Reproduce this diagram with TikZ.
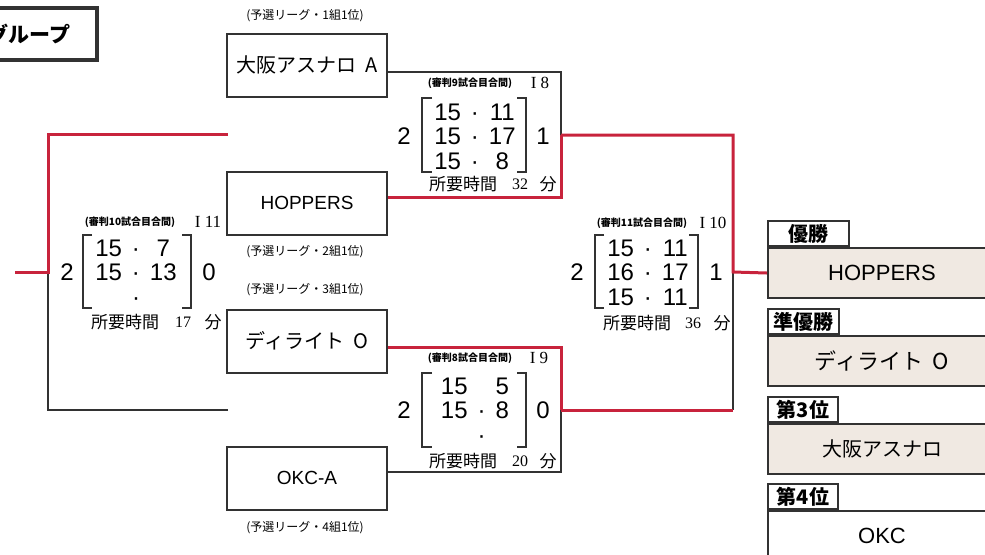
\documentclass[tikz,border=0pt]{standalone}
\usepackage{fontspec}
\setmainfont{Liberation Sans}
\newfontfamily\jp{Noto Sans CJK JP}
\newfontfamily\mincho{Liberation Serif}
\usetikzlibrary{calc}
\definecolor{winred}{RGB}{200,35,60}
\definecolor{paper}{RGB}{240,233,226}
\definecolor{ink}{RGB}{50,50,50}
\tikzstyle{groupbox}=[draw=ink,line width=1.6pt,minimum width=68pt,minimum height=26pt,font=\jp\bfseries\fontsize{10.5}{12}\selectfont]
\tikzstyle{team}=[draw=ink,line width=1pt,minimum width=80pt,minimum height=31.5pt,font=\jp\fontsize{10}{12}\selectfont]
\tikzstyle{latin}=[font=\fontsize{9.5}{11}\selectfont]
\tikzstyle{league}=[font=\jp\fontsize{6}{7}\selectfont,inner sep=0pt]
\tikzstyle{ref}=[font=\jp\bfseries\fontsize{5}{6}\selectfont,inner sep=0pt]
\tikzstyle{court}=[font=\mincho\fontsize{8.5}{10}\selectfont,inner sep=0pt]
\tikzstyle{games}=[font=\fontsize{12}{14}\selectfont,inner sep=0pt]
\tikzstyle{points}=[font=\fontsize{12}{12.3}\selectfont,inner sep=0pt]
\tikzstyle{jtime}=[font=\jp\fontsize{8.5}{10}\selectfont,inner sep=0pt]
\tikzstyle{mins}=[font=\mincho\fontsize{8}{10}\selectfont,inner sep=0pt]
\tikzstyle{bracket}=[draw=ink,line width=1.1pt]
\tikzstyle{win}=[draw=winred,line width=1.5pt]
\tikzstyle{lose}=[draw=ink,line width=1pt]
\tikzstyle{prize}=[draw=ink,line width=1pt,fill=paper,anchor=north west,minimum width=114pt,minimum height=25pt,font=\fontsize{11}{13}\selectfont]
\tikzstyle{prizetab}=[draw=ink,line width=1pt,fill=white,anchor=south west,minimum height=12.5pt,inner sep=0pt,font=\jp\bfseries\fontsize{10}{12}\selectfont]

\begin{document}
\begin{tikzpicture}[x=0.5pt,y=-0.5pt]
      \useasboundingbox (0,0) rectangle (985,554);
      \node[groupbox] (group) at (29,34) {グループ};

      % teams
      \node[league] (lg1) at (305,16) {(予選リーグ・1組1位)};
      \node[team] (asunaro) at (307,65) {大阪アスナロ\ \ A};
      \node[team,latin] (hoppers) at (307,203) {HOPPERS};
      \node[league] (lg2) at (305,252) {(予選リーグ・2組1位)};
      \node[league] (lg3) at (305,290) {(予選リーグ・3組1位)};
      \node[team] (delight) at (307,341) {ディライト\ \ O};
      \node[team,latin] (okca) at (307,478) {OKC-A};
      \node[league] (lg4) at (305,528) {(予選リーグ・4組1位)};

      % results
      \node[prize] (champ) at (767,247) {HOPPERS};
      \node[prizetab,minimum width=40.5pt] (champtab) at (champ.north west) {優勝};
      \node[prize] (runner) at (767,335) {\jp ディライト\ \ O};
      \node[prizetab,minimum width=35.5pt] (runnertab) at (runner.north west) {準優勝};
      \node[prize] (third) at (767,423) {\jp\fontsize{10}{12}\selectfont 大阪アスナロ};
      \node[prizetab,minimum width=35pt] (thirdtab) at (third.north west) {第3位};
      \node[prize,fill=white] (fourth) at (767,510) {OKC};
      \node[prizetab,minimum width=35pt] (fourthtab) at (fourth.north west) {第4位};

      % junctions
      \coordinate (sf1) at (561,135);
      \coordinate (sf2) at (561,410);
      \coordinate (fin) at (733,272);
      \coordinate (fin2) at (733,410);
      \coordinate (tpin1) at (228,134);
      \coordinate (tpin2) at (228,410);
      \coordinate (tpjoin) at (48,272);
      \coordinate (tpout) at (15,272);

      \draw[lose] ($(asunaro.east)+(0,7)$) -| (sf1);
      \draw[lose] ($(okca.east)+(0,-6)$) -| (sf2);
      \draw[lose] (fin2) -- (fin);
      \draw[lose] (tpin2) -| (tpjoin);
      \draw[win] ($(hoppers.east)+(0,-6)$) -| (sf1);
      \draw[win] ($(delight.east)+(0,6)$) -| (sf2);
      \draw[win] (sf2) -- (fin2);
      \draw[win] (sf1) -| (fin) -- (champ.west);
      \draw[win] (tpin1) -| (tpjoin) -- (tpout);

      % game 8
      \node[ref] (ref8) at (470,83) {(審判9試合目合間)};
      \node[court] (court8) at (540,83) {I 8};
      \node[games] (l8) at (404,136) {2};
      \node[points] (p8) at (475,140) {\begin{tabular}{@{}c@{\hspace{5pt}}c@{\hspace{5pt}}c@{}}15&·&11\\15&·&17\\15&·&8\end{tabular}};
      \node[games] (r8) at (543,136) {1};
      \draw[bracket] (432,98) -- (422,98) -- (422,172) -- (432,172);
      \draw[bracket] (517,98) -- (526,98) -- (526,172) -- (517,172);
      \node[jtime] (jt8) at (463,184) {所要時間};
      \node[mins] (mn8) at (520,184) {32};
      \node[jtime] (fn8) at (548,184) {分};

      % game 9
      \node[ref] (ref9) at (470,358) {(審判8試合目合間)};
      \node[court] (court9) at (539,358) {I 9};
      \node[games] (l9) at (404,410) {2};
      \node[points] (p9) at (475,414) {\begin{tabular}{@{}c@{\hspace{5pt}}c@{\hspace{5pt}}c@{}}15&&5\\15&·&8\\&·&\end{tabular}};
      \node[games] (r9) at (543,410) {0};
      \draw[bracket] (432,373) -- (422,373) -- (422,447) -- (432,447);
      \draw[bracket] (517,373) -- (526,373) -- (526,447) -- (517,447);
      \node[jtime] (jt9) at (463,461) {所要時間};
      \node[mins] (mn9) at (520,461) {20};
      \node[jtime] (fn9) at (548,461) {分};

      % game 10
      \node[ref] (ref10) at (642,223) {(審判11試合目合間)};
      \node[court] (court10) at (713,223) {I 10};
      \node[games] (l10) at (577,272) {2};
      \node[points] (p10) at (648,276) {\begin{tabular}{@{}c@{\hspace{5pt}}c@{\hspace{5pt}}c@{}}15&·&11\\16&·&17\\15&·&11\end{tabular}};
      \node[games] (r10) at (716,272) {1};
      \draw[bracket] (604,235) -- (595,235) -- (595,308) -- (604,308);
      \draw[bracket] (689,235) -- (698,235) -- (698,308) -- (689,308);
      \node[jtime] (jt10) at (637,323) {所要時間};
      \node[mins] (mn10) at (693,323) {36};
      \node[jtime] (fn10) at (722,323) {分};

      % game 11
      \node[ref] (ref11) at (130,222) {(審判10試合目合間)};
      \node[court] (court11) at (208,222) {I 11};
      \node[games] (l11) at (67,272) {2};
      \node[points] (p11) at (136,276) {\begin{tabular}{@{}c@{\hspace{5pt}}c@{\hspace{5pt}}c@{}}15&·&7\\15&·&13\\&·&\end{tabular}};
      \node[games] (r11) at (209,272) {0};
      \draw[bracket] (92,235) -- (83,235) -- (83,308) -- (92,308);
      \draw[bracket] (182,235) -- (191,235) -- (191,308) -- (182,308);
      \node[jtime] (jt11) at (125,322) {所要時間};
      \node[mins] (mn11) at (183,322) {17};
      \node[jtime] (fn11) at (213,322) {分};
\end{tikzpicture}
\end{document}
